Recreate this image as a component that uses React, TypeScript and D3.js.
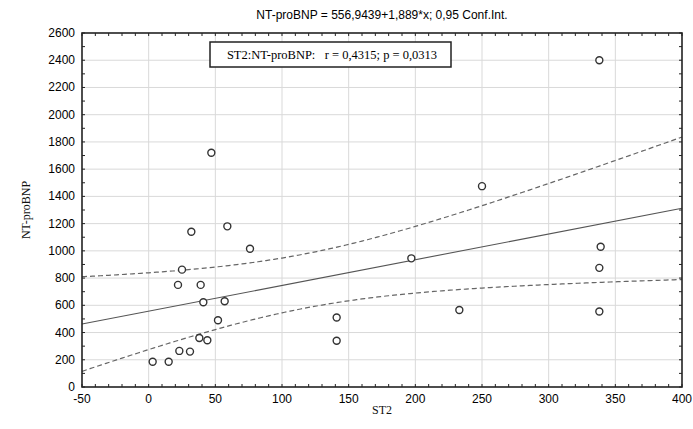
import React from "react";
import * as d3 from "d3";

const st2 = [47, 32, 59, 76, 25, 22, 39, 41, 57, 52, 38, 44, 23, 31, 3, 15, 338, 250, 339, 338, 338, 233, 197, 141, 141];
const ntProBNP = [1720, 1140, 1180, 1015, 862, 750, 750, 622, 630, 490, 360, 343, 265, 260, 185, 185, 2400, 1475, 1030, 875, 555, 565, 945, 510, 340];
const intercept = 556.9439;
const slope = 1.889;
const tValue = 2.069;
const xTicks = [-50, 0, 50, 100, 150, 200, 250, 300, 350, 400];
const yTicks = [0, 200, 400, 600, 800, 1000, 1200, 1400, 1600, 1800, 2000, 2200, 2400, 2600];
const titleText = "NT-proBNP = 556,9439+1,889*x; 0,95 Conf.Int.";
const legendText = "ST2:NT-proBNP:   r = 0,4315; p = 0,0313";

export default function App() {
  const W = 693, H = 429;
  const L = 82, R = 682, T = 33, B = 387;
  const x = d3.scaleLinear().domain([-50, 400]).range([L, R]);
  const y = d3.scaleLinear().domain([0, 2600]).range([B, T]);

  const n = st2.length;
  const xm = d3.mean(st2) as number;
  const sxx = d3.sum(st2, (v) => (v - xm) ** 2);
  const sse = d3.sum(st2, (v, i) => (ntProBNP[i] - (intercept + slope * v)) ** 2);
  const s = Math.sqrt(sse / (n - 2));
  const xs = d3.range(-50, 400.01, 2);
  const hw = (v: number) => tValue * s * Math.sqrt(1 / n + (v - xm) ** 2 / sxx);
  const upper = d3.line<number>().x((v) => x(v)).y((v) => y(intercept + slope * v + hw(v)))(xs) as string;
  const lower = d3.line<number>().x((v) => x(v)).y((v) => y(intercept + slope * v - hw(v)))(xs) as string;

  const minorX = d3.range(-50, 400.01, 10);
  const minorY = d3.range(0, 2600.01, 100);
  const sans = "Arial, 'Liberation Sans', sans-serif";
  const serif = "'Times New Roman', 'Liberation Serif', serif";

  return (
    <svg width={W} height={H} style={{ display: "block", position: "absolute", left: 0, top: 0, background: "#fff" }}>
      <rect x={0} y={0} width={W} height={H} fill="#fff" />
      <text x={(L + R) / 2} y={19} textAnchor="middle" fontFamily={sans} fontSize={12} fill="#000">{titleText}</text>
      {xTicks.slice(1, -1).map((t) => (
        <line key={"gx" + t} x1={x(t)} x2={x(t)} y1={T} y2={B} stroke="#d9d9d9" strokeWidth={1} />
      ))}
      {yTicks.slice(1, -1).map((t) => (
        <line key={"gy" + t} x1={L} x2={R} y1={y(t)} y2={y(t)} stroke="#d9d9d9" strokeWidth={1} />
      ))}
      {minorX.map((t) => (
        <g key={"mx" + t}>
          <line x1={x(t)} x2={x(t)} y1={B} y2={B - 3} stroke="#222" />
          <line x1={x(t)} x2={x(t)} y1={T} y2={T + 3} stroke="#222" />
        </g>
      ))}
      {minorY.map((t) => (
        <g key={"my" + t}>
          <line x1={L} x2={L + 3} y1={y(t)} y2={y(t)} stroke="#222" />
          <line x1={R} x2={R - 3} y1={y(t)} y2={y(t)} stroke="#222" />
        </g>
      ))}
      <path d={upper} fill="none" stroke="#666" strokeWidth={1.2} strokeDasharray="5,3" />
      <path d={lower} fill="none" stroke="#666" strokeWidth={1.2} strokeDasharray="5,3" />
      <line x1={x(-50)} x2={x(400)} y1={y(intercept + slope * -50)} y2={y(intercept + slope * 400)} stroke="#555" strokeWidth={1.1} />
      {st2.map((v, i) => (
        <circle key={i} cx={x(v)} cy={y(ntProBNP[i])} r={3.5} fill="#fff" stroke="#333" strokeWidth={1.4} />
      ))}
      <rect x={L} y={T} width={R - L} height={B - T} fill="none" stroke="#222" strokeWidth={1.6} />
      {xTicks.map((t) => (
        <text key={"xl" + t} x={x(t)} y={B + 16} textAnchor="middle" fontFamily={sans} fontSize={12} fill="#000">{t}</text>
      ))}
      {yTicks.map((t) => (
        <text key={"yl" + t} x={L - 7} y={y(t) + 4} textAnchor="end" fontFamily={sans} fontSize={12} fill="#000">{t}</text>
      ))}
      <text x={(L + R) / 2} y={414} textAnchor="middle" fontFamily={serif} fontSize={12} fill="#111">ST2</text>
      <text transform={`translate(30,${(T + B) / 2}) rotate(-90)`} textAnchor="middle" fontFamily={serif} fontSize={12} fill="#111">NT-proBNP</text>
      <rect x={210} y={42} width={241} height={25} fill="#fff" stroke="#222" strokeWidth={1.5} />
      <text x={332} y={59} textAnchor="middle" fontFamily={serif} fontSize={12.5} fill="#000" style={{ whiteSpace: "pre" }}>{legendText}</text>
    </svg>
  );
}
